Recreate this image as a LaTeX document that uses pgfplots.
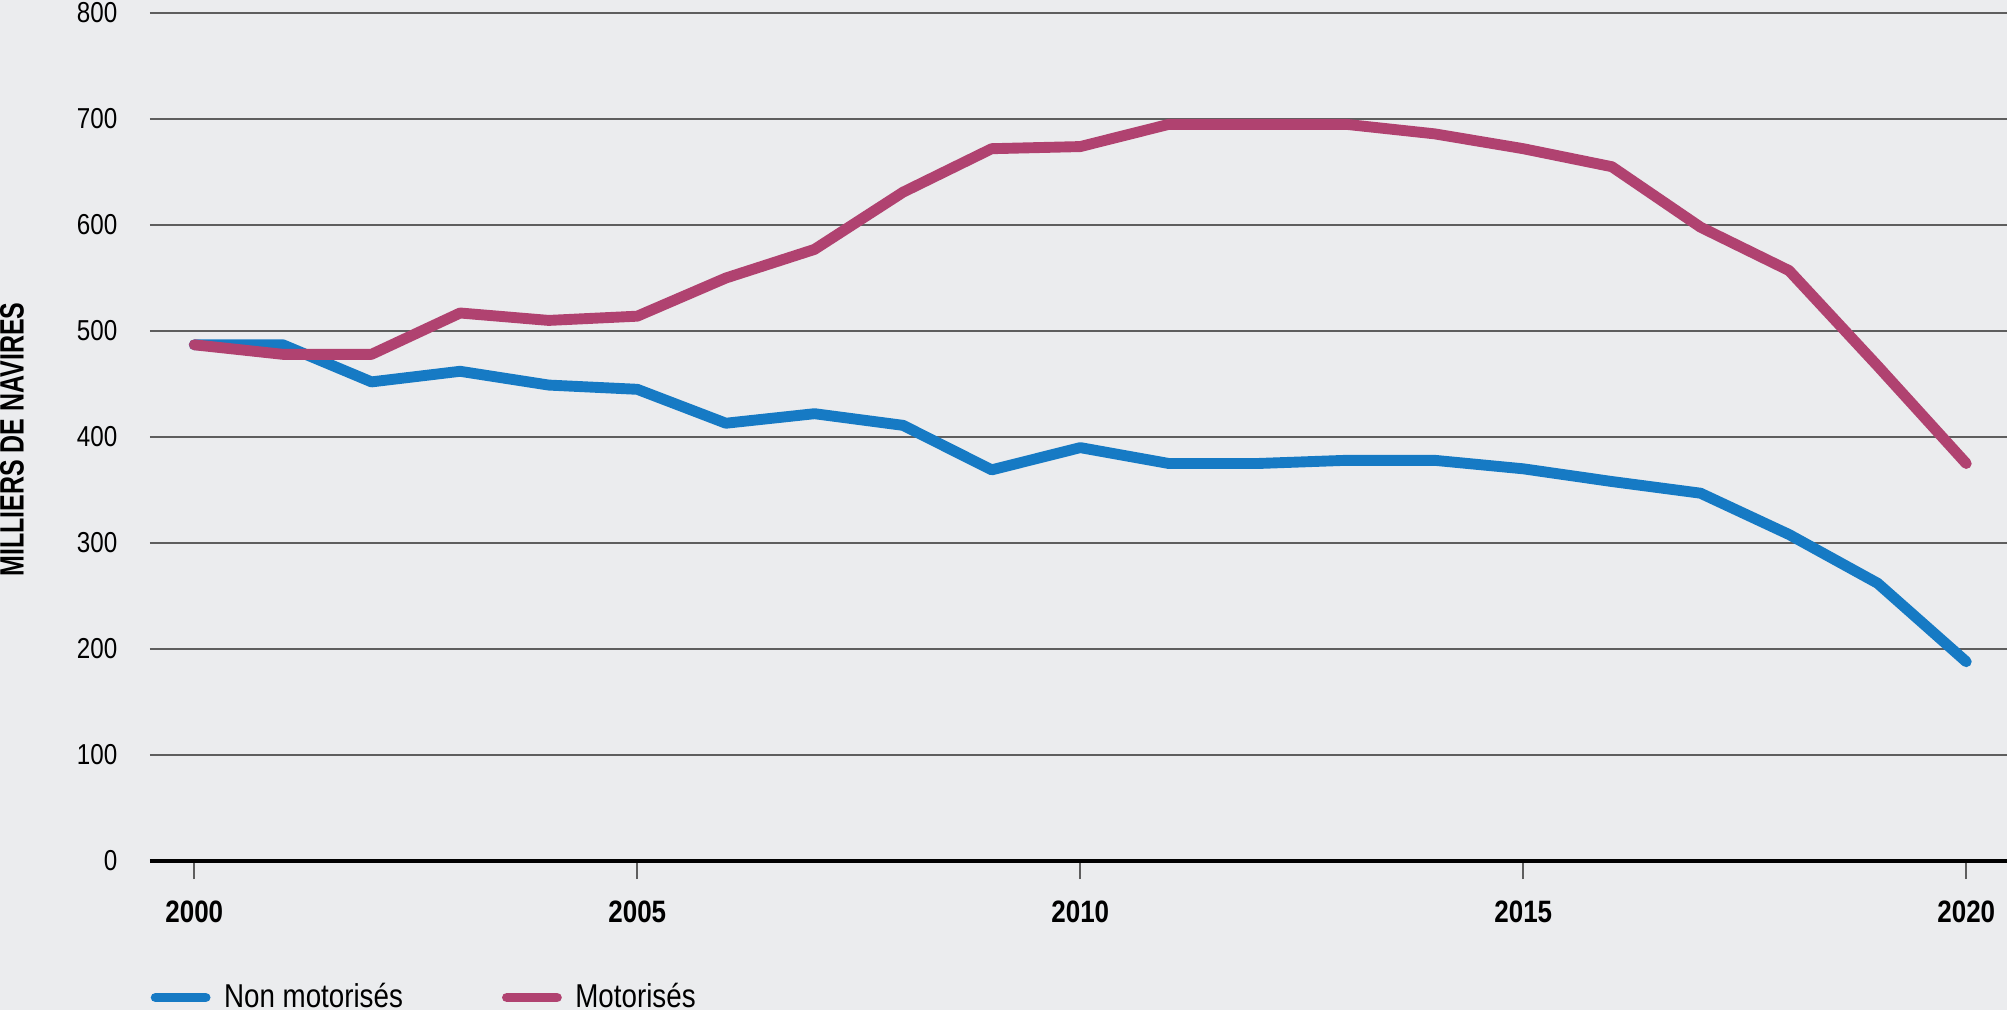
\documentclass[border=0pt]{standalone}
\usepackage{fontspec}
\setmainfont{Liberation Sans}[FakeStretch=0.84]
\newfontfamily\labelfont{Liberation Sans}[FakeStretch=0.74]
\usepackage{pgfplots}
\pgfplotsset{compat=1.18}
\definecolor{bg}{HTML}{EBECEE}
\definecolor{nonmot}{HTML}{167AC4}
\definecolor{mot}{HTML}{B04270}
\definecolor{gridgray}{HTML}{5E5E5E}
\begin{document}
\begin{tikzpicture}
\fill[bg] (0,0) rectangle (200.7mm,101mm);
\useasboundingbox (0,0) rectangle (200.7mm,101mm);
\begin{axis}[
  at={(15mm,14.9mm)}, anchor=south west,
  width=185.7mm, height=84.8mm, scale only axis,
  xmin=1999.5, xmax=2020.46, ymin=0, ymax=800,
  axis x line*=bottom, axis y line*=left,
  y axis line style={draw=none},
  x axis line style={black, line width=1.2pt, -},
  xtick={2000,2005,2010,2015,2020},
  xticklabels={2000,2005,2010,2015,2020},
  ytick={0,100,...,800},
  xtick align=outside,
  major tick length=1.8mm,
  xtick style={draw=gridgray, line width=0.5pt},
  ytick style={draw=none},
  ymajorgrids,
  grid style={color=gridgray, line width=0.6pt},
  /pgf/number format/assume math mode=true,
  yticklabel style={font=\fontsize{8.2}{9}\selectfont, anchor=east, inner sep=0pt, xshift=-3.2mm},
  xticklabel style={font=\fontsize{8.8}{10}\selectfont\bfseries, anchor=north, inner sep=0pt, yshift=-2.1mm},
  ylabel={\labelfont\bfseries MILLIERS DE NAVIRES},
  ylabel style={at={(axis description cs:-0.0743,0.497)}, anchor=center, font=\fontsize{9.6}{11}\selectfont, inner sep=0pt},
  legend style={at={(axis description cs:0,-0.161)}, anchor=west, draw=none, fill=none,
    inner sep=0pt, font=\fontsize{9.4}{11}\selectfont,
    /tikz/every even column/.append style={column sep=9.2mm}},
  legend columns=2,
  legend cell align=left,
  legend image code/.code={\draw[#1, line width=2.8pt, line cap=round] (0.45mm,0mm) -- (5.45mm,0mm);},
  every axis plot/.append style={line width=3.1pt, line join=round, line cap=round},
]
\addplot[nonmot, mark=none] coordinates {
(2000,487) (2001,487) (2002,452) (2003,462) (2004,449) (2005,445) (2006,413)
(2007,422) (2008,411) (2009,369) (2010,390) (2011,375) (2012,375) (2013,378)
(2014,378) (2015,370) (2016,358) (2017,347) (2018,308) (2019,262) (2020,188)};
\addlegendentry{\hspace{0.65mm}Non motorisés}
\addplot[mot, mark=none] coordinates {
(2000,487) (2001,478) (2002,478) (2003,517) (2004,510) (2005,514) (2006,550)
(2007,577) (2008,631) (2009,672) (2010,674) (2011,695) (2012,695) (2013,695)
(2014,686) (2015,672) (2016,655) (2017,598) (2018,557) (2019,467) (2020,375)};
\addlegendentry{\hspace{0.65mm}Motorisés}
\end{axis}
\end{tikzpicture}
\end{document}
